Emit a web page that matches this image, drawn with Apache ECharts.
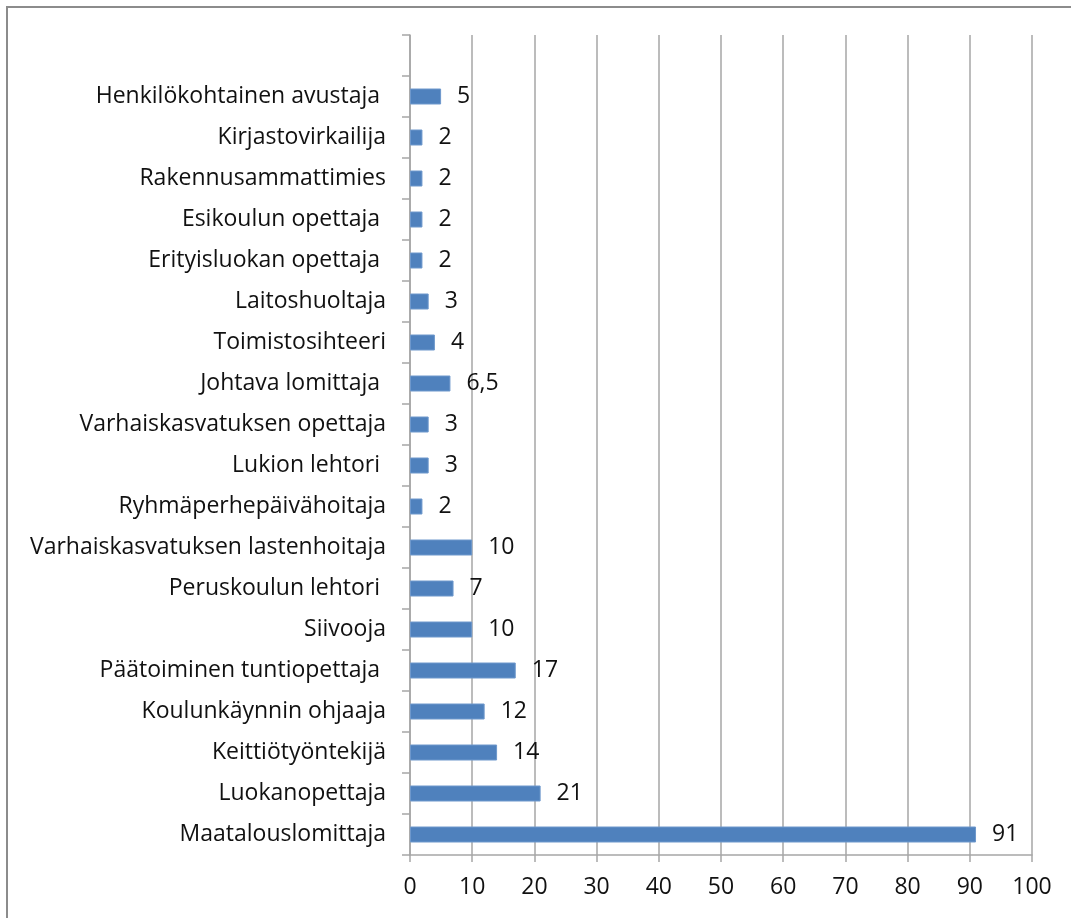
<!DOCTYPE html>
<html>
<head>
<meta charset="utf-8">
<script src="https://cdn.jsdelivr.net/npm/echarts@6/dist/echarts.min.js"></script>
<style>
  html, body { margin: 0; padding: 0; background: #fff; }
  #chart { width: 1071px; height: 918px; }
</style>
</head>
<body>
<div id="chart"></div>
<script>
// ammattinimikkeet alhaalta ylös (ylin paikka jää tyhjäksi)
var categories = [
  'Maatalouslomittaja', 'Luokanopettaja', 'Keittiötyöntekijä', 'Koulunkäynnin ohjaaja',
  'Päätoiminen tuntiopettaja ', 'Siivooja', 'Peruskoulun lehtori ',
  'Varhaiskasvatuksen lastenhoitaja', 'Ryhmäperhepäivähoitaja', 'Lukion lehtori ',
  'Varhaiskasvatuksen opettaja', 'Johtava lomittaja ', 'Toimistosihteeri',
  'Laitoshuoltaja', 'Erityisluokan opettaja ', 'Esikoulun opettaja ',
  'Rakennusammattimies', 'Kirjastovirkailija', 'Henkilökohtainen avustaja ', ''
]
var values = [91, 21, 14, 12, 17, 10, 7, 10, 2, 3, 3, 6.5, 4, 3, 2, 2, 2, 2, 5, null]
var xTicks = { min: 0, max: 100, interval: 10 }

var font = '"Open Sans", sans-serif'
var gray = '#a6a6a6'

var myChart = echarts.init(document.getElementById('chart'))
myChart.setOption({
  animation: false,
  graphic: [
    {
      type: 'rect',
      shape: { x: 7, y: 7, width: 1080, height: 930 },
      style: { fill: 'none', stroke: '#8c8c8c', lineWidth: 2 }
    }
  ],
  grid: { left: 410, right: 39, top: 35, bottom: 63 },
  xAxis: {
    type: 'value',
    min: xTicks.min,
    max: xTicks.max,
    interval: xTicks.interval,
    axisLine: { show: true, lineStyle: { color: gray, width: 1.5 } },
    axisTick: { show: true, length: 7, lineStyle: { color: gray, width: 1.5 } },
    splitLine: { show: true, lineStyle: { color: gray, width: 1.5 } },
    axisLabel: { color: '#111', fontSize: 23, fontFamily: font, margin: 21 }
  },
  yAxis: {
    type: 'category',
    data: categories,
    axisLine: { show: true, lineStyle: { color: gray, width: 1.5 } },
    axisTick: { show: true, length: 8, lineStyle: { color: gray, width: 1.5 } },
    axisLabel: { color: '#111', fontSize: 23, fontFamily: font, margin: 24, interval: 0 }
  },
  series: [
    {
      type: 'bar',
      data: values,
      barWidth: 16,
      itemStyle: { color: '#4f81bd', borderColor: '#6e98cc', borderWidth: 1 },
      label: {
        show: true,
        position: 'right',
        distance: 16,
        color: '#111',
        fontSize: 23,
        fontFamily: font,
        formatter: function (p) {
          return String(p.value).replace('.', ',')
        }
      }
    }
  ]
})
</script>
</body>
</html>
